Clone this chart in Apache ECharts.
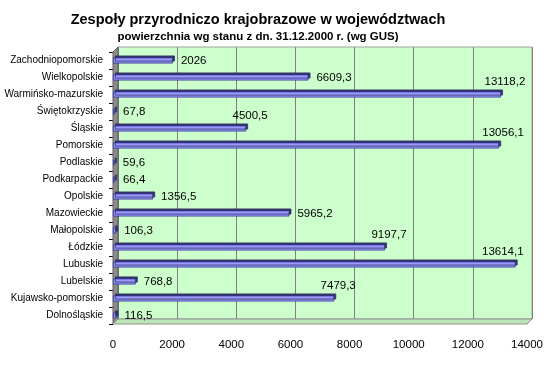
<!DOCTYPE html>
<html>
<head>
<meta charset="utf-8">
<script src="https://cdn.jsdelivr.net/npm/echarts@6/dist/echarts.min.js"></script>
<style>
html,body{margin:0;padding:0;background:#fff;}
#chart{width:550px;height:377px;}
</style>
</head>
<body>
<div id="chart"></div>
<script>
// ---- data ----
var categories = ['Dolnośląskie','Kujawsko-pomorskie','Lubelskie','Lubuskie','Łódzkie','Małopolskie','Mazowieckie','Opolskie','Podkarpackie','Podlaskie','Pomorskie','Śląskie','Świętokrzyskie','Warmińsko-mazurskie','Wielkopolskie','Zachodniopomorskie'];
var values = [116.5, 7479.3, 768.8, 13614.1, 9197.7, 106.3, 5965.2, 1356.5, 66.4, 59.6, 13056.1, 4500.5, 67.8, 13118.2, 6609.3, 2026];
var valueTicks = [0, 2000, 4000, 6000, 8000, 10000, 12000, 14000];
var titleText = 'Zespoły przyrodniczo krajobrazowe w województwach';
var subtitleText = 'powierzchnia wg stanu z dn. 31.12.2000 r. (wg GUS)';
// labels drawn above the bar end (as in the original)
var raisedLabels = ['Kujawsko-pomorskie','Lubuskie','Łódzkie','Pomorskie','Śląskie','Warmińsko-mazurskie'];

function fmt(v){ return String(v).replace('.', ','); }

var FONT = 'Liberation Sans, Arial, sans-serif';
var vMin = valueTicks[0], vMax = valueTicks[valueTicks.length-1], vInt = valueTicks[1]-valueTicks[0];

var G = {left:113, top:52, width:414, height:272};
var D = 5; // 3D depth

var barData = values.map(function(v,i){
  var item = {value: v};
  if (raisedLabels.indexOf(categories[i]) >= 0) {
    var nearEdge = v > vMax * 0.95;
    item.label = {position: ['100%', 0], align: nearEdge ? 'right' : 'center', verticalAlign: 'bottom',
                  offset: nearEdge ? [8, -4] : [4, -4], distance: 0};
  }
  return item;
});

var chart = echarts.init(document.getElementById('chart'), null, {renderer:'canvas'});
chart.setOption({
  backgroundColor: '#ffffff',
  animation: false,
  title: [
    {text: titleText, left: 253, top: 7, textAlign: 'center',
     textStyle: {fontFamily: FONT, fontSize: 14.5, fontWeight: 'bold', color: '#000'}},
    {text: subtitleText, left: 253, top: 26, textAlign: 'center',
     textStyle: {fontFamily: FONT, fontSize: 11.5, fontWeight: 'bold', color: '#000'}}
  ],
  grid: [
    {left: G.left + D, top: G.top - D, width: G.width, height: G.height, show: true,
     backgroundColor: '#ccffcc', borderColor: '#a0a0a0', borderWidth: 1,
     containLabel: false, outerBoundsMode: 'none'},
    {left: G.left, top: G.top, width: G.width, height: G.height, show: false,
     containLabel: false, outerBoundsMode: 'none'}
  ],
  xAxis: [
    {gridIndex: 0, type: 'value', min: vMin, max: vMax, interval: vInt,
     axisLine: {show: false}, axisTick: {show: false}, axisLabel: {show: false},
     splitLine: {show: true, lineStyle: {color: '#808080', width: 1}}},
    {gridIndex: 1, type: 'value', min: vMin, max: vMax, interval: vInt,
     axisLine: {show: false}, axisTick: {show: false}, splitLine: {show: false},
     axisLabel: {show: true, margin: 15, fontFamily: FONT, fontSize: 11.5, color: '#000',
       hideOverlap: false, formatter: function(v){ return String(v); }}}
  ],
  yAxis: [
    {gridIndex: 0, type: 'category', data: categories, show: false},
    {gridIndex: 1, type: 'category', data: categories,
     axisLine: {show: false},
     axisTick: {show: true, length: 4, lineStyle: {color: '#000'}},
     axisLabel: {show: true, margin: 10, fontFamily: FONT, fontSize: 10, color: '#000',
       interval: 0, hideOverlap: false, overflow: 'none'},
     splitLine: {show: false}}
  ],
  graphic: [
    // left wall
    {type: 'polygon', z: 1, silent: true,
     shape: {points: [[G.left, G.top],[G.left+D, G.top-D],[G.left+D, G.top+G.height-D],[G.left, G.top+G.height]]},
     style: {fill: '#8c8c8c', stroke: '#606060', lineWidth: 1}},
    // floor
    {type: 'polygon', z: 1, silent: true,
     shape: {points: [[G.left, G.top+G.height],[G.left+D, G.top+G.height-D],[G.left+G.width+D, G.top+G.height-D],[G.left+G.width, G.top+G.height]]},
     style: {fill: '#b8e6b8', stroke: '#909090', lineWidth: 1}}
  ],
  series: [
    {type: 'bar', xAxisIndex: 1, yAxisIndex: 1, data: barData, barWidth: 6, z: 5,
     itemStyle: {color: '#9999ff', borderColor: '#333399', borderWidth: 0.8,
       shadowColor: '#333366', shadowOffsetX: 2, shadowOffsetY: -2, shadowBlur: 0},
     label: {show: true, position: 'right', distance: 8, fontFamily: FONT, fontSize: 11.5, color: '#000',
       formatter: function(p){ return fmt(p.value); }}}
  ]
});
</script>
</body>
</html>
